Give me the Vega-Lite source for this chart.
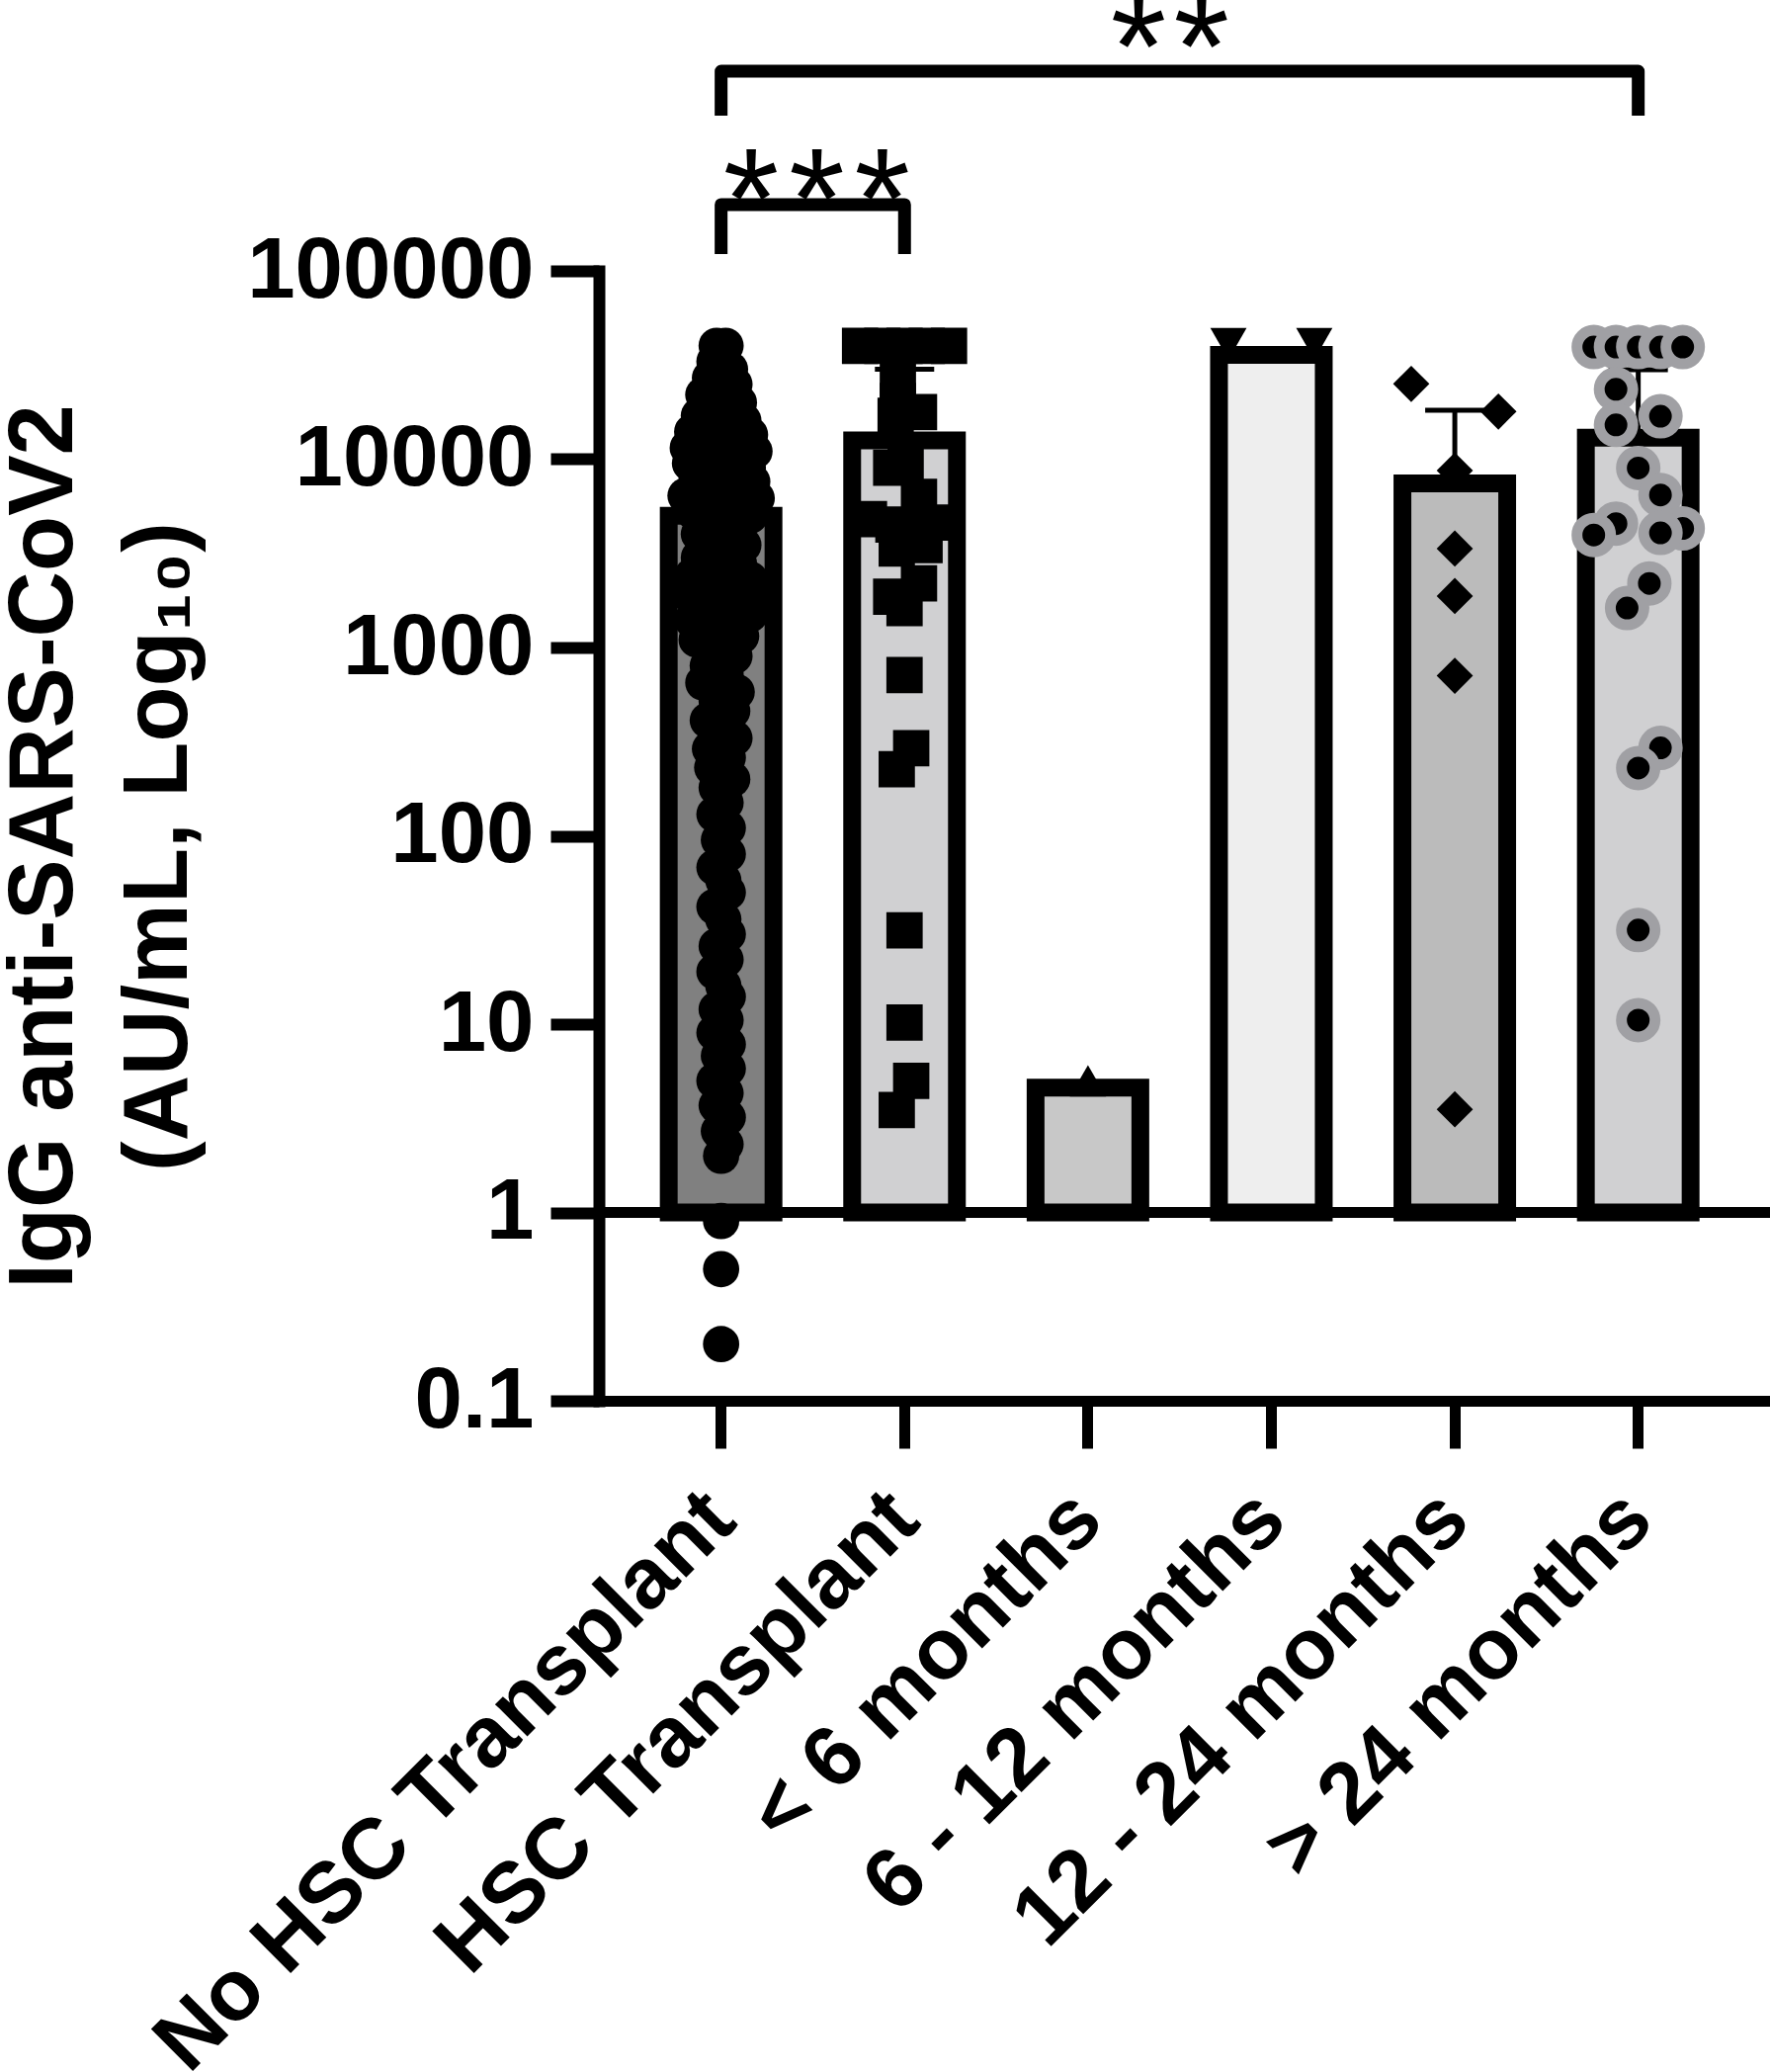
{
  "$schema": "https://vega.github.io/schema/vega-lite/v6.json",
  "width": 1185,
  "height": 1143,
  "autosize": {"type": "none"},
  "padding": {"left": 606, "top": 274, "right": 0, "bottom": 679},
  "background": "white",
  "config": {"view": {"stroke": null}, "font": "Liberation Sans"},
  "resolve": {"scale": {"xOffset": "independent"}},
  "datasets": {
    "bars": [
      {"group": "No HSC Transplant", "mean": 5000, "upper": 13000},
      {"group": "HSC Transplant", "mean": 12600, "upper": 30000},
      {"group": "< 6 months", "mean": 4.6},
      {"group": "6 - 12 months", "mean": 35800},
      {"group": "12 - 24 months", "mean": 7430, "upper": 18200},
      {"group": "> 24 months", "mean": 13000, "upper": 29900}
    ],
    "points": [
      {"group": "No HSC Transplant", "value": 40000, "jitter": -0.2},
      {"group": "No HSC Transplant", "value": 40000, "jitter": 0.2},
      {"group": "No HSC Transplant", "value": 33000, "jitter": -0.3},
      {"group": "No HSC Transplant", "value": 30000, "jitter": 0.4},
      {"group": "No HSC Transplant", "value": 27000, "jitter": -0.5},
      {"group": "No HSC Transplant", "value": 25000, "jitter": 0.6},
      {"group": "No HSC Transplant", "value": 22000, "jitter": -0.8},
      {"group": "No HSC Transplant", "value": 20000, "jitter": 0.8},
      {"group": "No HSC Transplant", "value": 19000, "jitter": 0.1},
      {"group": "No HSC Transplant", "value": 17000, "jitter": -1.0},
      {"group": "No HSC Transplant", "value": 16000, "jitter": 1.0},
      {"group": "No HSC Transplant", "value": 15000, "jitter": -0.3},
      {"group": "No HSC Transplant", "value": 14000, "jitter": -1.3},
      {"group": "No HSC Transplant", "value": 13500, "jitter": 1.3},
      {"group": "No HSC Transplant", "value": 12500, "jitter": 0.4},
      {"group": "No HSC Transplant", "value": 11500, "jitter": -1.5},
      {"group": "No HSC Transplant", "value": 11000, "jitter": 1.5},
      {"group": "No HSC Transplant", "value": 10500, "jitter": -0.6},
      {"group": "No HSC Transplant", "value": 10000, "jitter": 0.7},
      {"group": "No HSC Transplant", "value": 9500, "jitter": -1.4},
      {"group": "No HSC Transplant", "value": 9000, "jitter": 1.2},
      {"group": "No HSC Transplant", "value": 8500, "jitter": 0},
      {"group": "No HSC Transplant", "value": 8000, "jitter": -1.1},
      {"group": "No HSC Transplant", "value": 7600, "jitter": 1.4},
      {"group": "No HSC Transplant", "value": 7200, "jitter": -0.4},
      {"group": "No HSC Transplant", "value": 6800, "jitter": 0.6},
      {"group": "No HSC Transplant", "value": 6400, "jitter": -1.6},
      {"group": "No HSC Transplant", "value": 6200, "jitter": 1.6},
      {"group": "No HSC Transplant", "value": 6000, "jitter": -0.9},
      {"group": "No HSC Transplant", "value": 5800, "jitter": 1.0},
      {"group": "No HSC Transplant", "value": 5500, "jitter": 0.2},
      {"group": "No HSC Transplant", "value": 5200, "jitter": -1.2},
      {"group": "No HSC Transplant", "value": 5000, "jitter": 1.3},
      {"group": "No HSC Transplant", "value": 4600, "jitter": -0.5},
      {"group": "No HSC Transplant", "value": 4300, "jitter": 0.7},
      {"group": "No HSC Transplant", "value": 4000, "jitter": -1.0},
      {"group": "No HSC Transplant", "value": 3800, "jitter": 0.3},
      {"group": "No HSC Transplant", "value": 3500, "jitter": 1.0},
      {"group": "No HSC Transplant", "value": 3300, "jitter": -0.3},
      {"group": "No HSC Transplant", "value": 3000, "jitter": -1.0},
      {"group": "No HSC Transplant", "value": 2800, "jitter": 0.8},
      {"group": "No HSC Transplant", "value": 2600, "jitter": 0},
      {"group": "No HSC Transplant", "value": 2400, "jitter": -1.3},
      {"group": "No HSC Transplant", "value": 2300, "jitter": 1.3},
      {"group": "No HSC Transplant", "value": 2200, "jitter": -0.6},
      {"group": "No HSC Transplant", "value": 2100, "jitter": 0.5},
      {"group": "No HSC Transplant", "value": 2000, "jitter": 1.4},
      {"group": "No HSC Transplant", "value": 1900, "jitter": -1.4},
      {"group": "No HSC Transplant", "value": 1800, "jitter": -0.2},
      {"group": "No HSC Transplant", "value": 1700, "jitter": 0.9},
      {"group": "No HSC Transplant", "value": 1600, "jitter": -0.9},
      {"group": "No HSC Transplant", "value": 1500, "jitter": 1.3},
      {"group": "No HSC Transplant", "value": 1400, "jitter": -1.3},
      {"group": "No HSC Transplant", "value": 1300, "jitter": 0.3},
      {"group": "No HSC Transplant", "value": 1200, "jitter": -0.5},
      {"group": "No HSC Transplant", "value": 1150, "jitter": 0.9},
      {"group": "No HSC Transplant", "value": 1100, "jitter": -1.1},
      {"group": "No HSC Transplant", "value": 1050, "jitter": 0.4},
      {"group": "No HSC Transplant", "value": 1000, "jitter": -0.3},
      {"group": "No HSC Transplant", "value": 900, "jitter": 0.6},
      {"group": "No HSC Transplant", "value": 800, "jitter": -0.6},
      {"group": "No HSC Transplant", "value": 720, "jitter": 0.2},
      {"group": "No HSC Transplant", "value": 650, "jitter": -0.8},
      {"group": "No HSC Transplant", "value": 580, "jitter": 0.7},
      {"group": "No HSC Transplant", "value": 520, "jitter": -0.2},
      {"group": "No HSC Transplant", "value": 460, "jitter": 0.5},
      {"group": "No HSC Transplant", "value": 410, "jitter": -0.6},
      {"group": "No HSC Transplant", "value": 370, "jitter": 0.1},
      {"group": "No HSC Transplant", "value": 330, "jitter": 0.6},
      {"group": "No HSC Transplant", "value": 290, "jitter": -0.5},
      {"group": "No HSC Transplant", "value": 260, "jitter": 0.3},
      {"group": "No HSC Transplant", "value": 230, "jitter": -0.4},
      {"group": "No HSC Transplant", "value": 200, "jitter": 0.5},
      {"group": "No HSC Transplant", "value": 180, "jitter": -0.2},
      {"group": "No HSC Transplant", "value": 150, "jitter": 0.2},
      {"group": "No HSC Transplant", "value": 130, "jitter": -0.3},
      {"group": "No HSC Transplant", "value": 110, "jitter": 0.3},
      {"group": "No HSC Transplant", "value": 95, "jitter": -0.1},
      {"group": "No HSC Transplant", "value": 80, "jitter": 0.3},
      {"group": "No HSC Transplant", "value": 68, "jitter": -0.3},
      {"group": "No HSC Transplant", "value": 58, "jitter": 0.1},
      {"group": "No HSC Transplant", "value": 50, "jitter": 0.3},
      {"group": "No HSC Transplant", "value": 42, "jitter": -0.3},
      {"group": "No HSC Transplant", "value": 36, "jitter": 0.1},
      {"group": "No HSC Transplant", "value": 30, "jitter": 0.3},
      {"group": "No HSC Transplant", "value": 26, "jitter": -0.2},
      {"group": "No HSC Transplant", "value": 22, "jitter": 0.2},
      {"group": "No HSC Transplant", "value": 19, "jitter": -0.3},
      {"group": "No HSC Transplant", "value": 16, "jitter": 0.1},
      {"group": "No HSC Transplant", "value": 14, "jitter": 0.3},
      {"group": "No HSC Transplant", "value": 12, "jitter": -0.2},
      {"group": "No HSC Transplant", "value": 10.5, "jitter": 0.2},
      {"group": "No HSC Transplant", "value": 9, "jitter": -0.3},
      {"group": "No HSC Transplant", "value": 7.8, "jitter": 0.3},
      {"group": "No HSC Transplant", "value": 6.8, "jitter": -0.1},
      {"group": "No HSC Transplant", "value": 5.8, "jitter": 0.3},
      {"group": "No HSC Transplant", "value": 5, "jitter": -0.3},
      {"group": "No HSC Transplant", "value": 4.3, "jitter": 0.2},
      {"group": "No HSC Transplant", "value": 3.7, "jitter": -0.2},
      {"group": "No HSC Transplant", "value": 3.2, "jitter": 0.3},
      {"group": "No HSC Transplant", "value": 2.7, "jitter": -0.1},
      {"group": "No HSC Transplant", "value": 2.3, "jitter": 0.2},
      {"group": "No HSC Transplant", "value": 2, "jitter": 0},
      {"group": "No HSC Transplant", "value": 0.9, "jitter": 0},
      {"group": "No HSC Transplant", "value": 0.5, "jitter": 0},
      {"group": "No HSC Transplant", "value": 0.2, "jitter": 0},
      {"group": "HSC Transplant", "value": 40000, "jitter": -2},
      {"group": "HSC Transplant", "value": 40000, "jitter": -1},
      {"group": "HSC Transplant", "value": 40000, "jitter": 0},
      {"group": "HSC Transplant", "value": 40000, "jitter": 1},
      {"group": "HSC Transplant", "value": 40000, "jitter": 2},
      {"group": "HSC Transplant", "value": 25800, "jitter": -0.3},
      {"group": "HSC Transplant", "value": 20400, "jitter": -0.3},
      {"group": "HSC Transplant", "value": 17800, "jitter": 0.65},
      {"group": "HSC Transplant", "value": 17000, "jitter": -0.4},
      {"group": "HSC Transplant", "value": 9300, "jitter": 0.05},
      {"group": "HSC Transplant", "value": 9000, "jitter": -0.6},
      {"group": "HSC Transplant", "value": 6300, "jitter": 0.65},
      {"group": "HSC Transplant", "value": 4800, "jitter": -1.6},
      {"group": "HSC Transplant", "value": 4600, "jitter": 1.6},
      {"group": "HSC Transplant", "value": 4500, "jitter": -0.5},
      {"group": "HSC Transplant", "value": 4300, "jitter": 0.5},
      {"group": "HSC Transplant", "value": 3500, "jitter": 0.9},
      {"group": "HSC Transplant", "value": 3350, "jitter": -0.35},
      {"group": "HSC Transplant", "value": 2190, "jitter": 0.65},
      {"group": "HSC Transplant", "value": 1860, "jitter": -0.6},
      {"group": "HSC Transplant", "value": 1620, "jitter": 0},
      {"group": "HSC Transplant", "value": 713, "jitter": 0},
      {"group": "HSC Transplant", "value": 292, "jitter": 0.3},
      {"group": "HSC Transplant", "value": 226, "jitter": -0.35},
      {"group": "HSC Transplant", "value": 31.5, "jitter": 0},
      {"group": "HSC Transplant", "value": 10.2, "jitter": 0},
      {"group": "HSC Transplant", "value": 5, "jitter": 0.3},
      {"group": "HSC Transplant", "value": 3.5, "jitter": -0.35},
      {"group": "< 6 months", "value": 5, "jitter": 0},
      {"group": "6 - 12 months", "value": 41000, "jitter": -1.93},
      {"group": "6 - 12 months", "value": 41000, "jitter": 1.93},
      {"group": "12 - 24 months", "value": 25100, "jitter": -1.96},
      {"group": "12 - 24 months", "value": 17900, "jitter": 1.96},
      {"group": "12 - 24 months", "value": 8700, "jitter": 0},
      {"group": "12 - 24 months", "value": 3350, "jitter": 0},
      {"group": "12 - 24 months", "value": 1875, "jitter": 0},
      {"group": "12 - 24 months", "value": 708, "jitter": 0},
      {"group": "12 - 24 months", "value": 3.53, "jitter": 0},
      {"group": "> 24 months", "value": 39400, "jitter": -2},
      {"group": "> 24 months", "value": 39400, "jitter": -1},
      {"group": "> 24 months", "value": 39400, "jitter": 0},
      {"group": "> 24 months", "value": 39400, "jitter": 1},
      {"group": "> 24 months", "value": 39400, "jitter": 2},
      {"group": "> 24 months", "value": 23500, "jitter": -1},
      {"group": "> 24 months", "value": 16900, "jitter": 1},
      {"group": "> 24 months", "value": 15200, "jitter": -1},
      {"group": "> 24 months", "value": 8980, "jitter": 0},
      {"group": "> 24 months", "value": 6460, "jitter": 1},
      {"group": "> 24 months", "value": 4550, "jitter": -1},
      {"group": "> 24 months", "value": 4290, "jitter": 2},
      {"group": "> 24 months", "value": 4060, "jitter": 1},
      {"group": "> 24 months", "value": 3960, "jitter": -2},
      {"group": "> 24 months", "value": 2190, "jitter": 0.5},
      {"group": "> 24 months", "value": 1620, "jitter": -0.5},
      {"group": "> 24 months", "value": 293, "jitter": 1},
      {"group": "> 24 months", "value": 229, "jitter": 0},
      {"group": "> 24 months", "value": 31.6, "jitter": 0},
      {"group": "> 24 months", "value": 10.5, "jitter": 0}
    ],
    "brackets": [
      {"id": "a", "seq": 1, "group": "No HSC Transplant", "value": 122700},
      {"id": "a", "seq": 2, "group": "No HSC Transplant", "value": 225000},
      {"id": "a", "seq": 3, "group": "HSC Transplant", "value": 225000},
      {"id": "a", "seq": 4, "group": "HSC Transplant", "value": 122700},
      {"id": "b", "seq": 1, "group": "No HSC Transplant", "value": 667000},
      {"id": "b", "seq": 2, "group": "No HSC Transplant", "value": 1148000},
      {"id": "b", "seq": 3, "group": "> 24 months", "value": 1148000},
      {"id": "b", "seq": 4, "group": "> 24 months", "value": 667000}
    ],
    "stars": [
      {"group": "No HSC Transplant", "jitter": 1.35, "value": 225000, "label": "*"},
      {"group": "No HSC Transplant", "jitter": 4.3, "value": 225000, "label": "*"},
      {"group": "No HSC Transplant", "jitter": 7.25, "value": 225000, "label": "*"},
      {"group": "< 6 months", "jitter": 2.27, "value": 1450000, "label": "*"},
      {"group": "< 6 months", "jitter": 5.1, "value": 1450000, "label": "*"}
    ]
  },
  "layer": [
    {
      "data": {"name": "bars"},
      "mark": {"type": "bar", "stroke": "black", "strokeWidth": 18, "strokeJoin": "miter", "opacity": 1},
      "encoding": {
        "x": {
          "field": "group", "type": "nominal",
          "scale": {"domain": ["No HSC Transplant", "HSC Transplant", "< 6 months", "6 - 12 months", "12 - 24 months", "> 24 months"], "paddingInner": 0.4289, "paddingOuter": 0.4068, "align": 0.468, "round": false},
          "axis": {
            "title": null, "grid": false,
            "labelAngle": -45, "labelAlign": "right", "labelBaseline": "middle",
            "labelFont": "Liberation Sans", "labelFontWeight": "bold", "labelFontSize": 87, "labelColor": "black",
            "labelPadding": 58, "labelLimit": 0, "labelOverlap": false,
            "tickSize": 48, "tickWidth": 11, "tickColor": "black",
            "domainColor": "black", "domainWidth": 11
          }
        },
        "y": {
          "field": "mean", "type": "quantitative",
          "scale": {"type": "log", "domain": [0.1, 100000], "nice": false},
          "axis": {
            "title": ["IgG anti-SARS-CoV2", "(AU/mL, Log₁₀)"],
            "titleFont": "Liberation Sans", "titleFontWeight": "bold", "titleFontSize": 92, "titleColor": "black",
            "titleAngle": -90, "titleAlign": "center", "titleBaseline": "alphabetic",
            "titleX": -534, "titleY": 582, "titleLineHeight": 116,
            "values": [0.1, 1, 10, 100, 1000, 10000, 100000], "format": "~g",
            "labelFont": "Liberation Sans", "labelFontWeight": "bold", "labelFontSize": 87, "labelColor": "black",
            "labelPadding": 17, "labelLimit": 0, "labelOverlap": false,
            "tickSize": 49, "tickWidth": 12, "tickColor": "black",
            "domainColor": "black", "domainWidth": 12, "domainCap": "square", "grid": false
          }
        },
        "y2": {"datum": 1},
        "color": {
          "field": "group", "type": "nominal",
          "scale": {"domain": ["No HSC Transplant", "HSC Transplant", "< 6 months", "6 - 12 months", "12 - 24 months", "> 24 months"], "range": ["#808080", "#d0d0d2", "#c8c8c8", "#eeeeee", "#bbbbbb", "#d0d0d2"]},
          "legend": null
        }
      }
    },
    {
      "data": {"values": [{"level": 1}]},
      "mark": {"type": "rule", "strokeWidth": 11, "color": "black"},
      "encoding": {
        "y": {"field": "level", "type": "quantitative", "scale": {"type": "log", "domain": [0.1, 100000], "nice": false}}
      }
    },
    {
      "data": {"name": "bars"},
      "transform": [{"filter": "isValid(datum.upper)"}],
      "mark": {"type": "rule", "strokeWidth": 5, "color": "black"},
      "encoding": {
        "x": {"field": "group", "type": "nominal", "scale": {"domain": ["No HSC Transplant", "HSC Transplant", "< 6 months", "6 - 12 months", "12 - 24 months", "> 24 months"]}},
        "y": {"field": "mean", "type": "quantitative", "scale": {"type": "log", "domain": [0.1, 100000], "nice": false}},
        "y2": {"field": "upper"}
      }
    },
    {
      "data": {"name": "bars"},
      "transform": [{"filter": "isValid(datum.upper)"}],
      "mark": {"type": "tick", "size": 60, "thickness": 5, "color": "black", "opacity": 1},
      "encoding": {
        "x": {"field": "group", "type": "nominal", "scale": {"domain": ["No HSC Transplant", "HSC Transplant", "< 6 months", "6 - 12 months", "12 - 24 months", "> 24 months"]}},
        "y": {"field": "upper", "type": "quantitative", "scale": {"type": "log", "domain": [0.1, 100000], "nice": false}}
      }
    },
    {
      "data": {"name": "points"},
      "transform": [{"filter": "datum.group != '> 24 months'"}],
      "mark": {"type": "point", "filled": true, "color": "black", "opacity": 1, "size": 1350, "strokeWidth": 0},
      "encoding": {
        "x": {"field": "group", "type": "nominal", "scale": {"domain": ["No HSC Transplant", "HSC Transplant", "< 6 months", "6 - 12 months", "12 - 24 months", "> 24 months"]}},
        "xOffset": {"field": "jitter", "type": "quantitative", "scale": {"domain": [-4, 4], "range": [-37, 143]}},
        "y": {"field": "value", "type": "quantitative", "scale": {"type": "log", "domain": [0.1, 100000], "nice": false}},
        "shape": {
          "field": "group", "type": "nominal",
          "scale": {"domain": ["No HSC Transplant", "HSC Transplant", "< 6 months", "6 - 12 months", "12 - 24 months"], "range": ["circle", "square", "triangle-up", "triangle-down", "diamond"]},
          "legend": null
        }
      }
    },
    {
      "data": {"name": "points"},
      "transform": [{"filter": "datum.group == '> 24 months'"}],
      "mark": {"type": "circle", "fill": "black", "stroke": "#a0a0a4", "strokeWidth": 11, "size": 1156, "opacity": 1},
      "encoding": {
        "x": {"field": "group", "type": "nominal", "scale": {"domain": ["No HSC Transplant", "HSC Transplant", "< 6 months", "6 - 12 months", "12 - 24 months", "> 24 months"]}},
        "xOffset": {"field": "jitter", "type": "quantitative", "scale": {"domain": [-4, 4], "range": [-37, 143]}},
        "y": {"field": "value", "type": "quantitative", "scale": {"type": "log", "domain": [0.1, 100000], "nice": false}}
      }
    },
    {
      "data": {"name": "brackets"},
      "mark": {"type": "line", "strokeWidth": 13, "color": "black", "strokeJoin": "round", "strokeCap": "butt"},
      "encoding": {
        "x": {"field": "group", "type": "nominal", "scale": {"domain": ["No HSC Transplant", "HSC Transplant", "< 6 months", "6 - 12 months", "12 - 24 months", "> 24 months"]}},
        "y": {"field": "value", "type": "quantitative", "scale": {"type": "log", "domain": [0.1, 100000], "nice": false}},
        "detail": {"field": "id"},
        "order": {"field": "seq"}
      }
    },
    {
      "data": {"name": "stars"},
      "mark": {"type": "text", "font": "Liberation Sans", "fontSize": 145, "align": "center", "baseline": "middle", "color": "black"},
      "encoding": {
        "x": {"field": "group", "type": "nominal", "scale": {"domain": ["No HSC Transplant", "HSC Transplant", "< 6 months", "6 - 12 months", "12 - 24 months", "> 24 months"]}},
        "xOffset": {"field": "jitter", "type": "quantitative", "scale": {"domain": [-4, 4], "range": [-37, 143]}},
        "y": {"field": "value", "type": "quantitative", "scale": {"type": "log", "domain": [0.1, 100000], "nice": false}},
        "text": {"field": "label"}
      }
    }
  ]
}
